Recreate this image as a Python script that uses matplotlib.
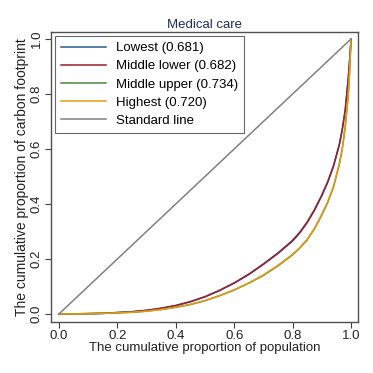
import matplotlib
matplotlib.use("Agg")
import matplotlib.pyplot as plt

plt.rcParams['font.family'] = ['Liberation Sans', 'DejaVu Sans']

# cumulative population share
pop = [0.0, 0.05, 0.1, 0.15, 0.2, 0.25, 0.3, 0.35, 0.4, 0.45, 0.5, 0.55, 0.6, 0.65,
       0.7, 0.75, 0.8, 0.825, 0.85, 0.875, 0.9, 0.92, 0.94, 0.96, 0.97, 0.98, 0.99, 0.995, 1.0]

# cumulative carbon footprint share (Lorenz curves by income group)
lowest       = [0.0, 0.0003, 0.001, 0.002, 0.005, 0.008, 0.013, 0.020, 0.030, 0.044, 0.062, 0.085, 0.112, 0.143,
                0.180, 0.220, 0.265, 0.295, 0.332, 0.377, 0.430, 0.478, 0.537, 0.615, 0.670, 0.740, 0.850, 0.920, 1.0]
middle_lower = [0.0, 0.0003, 0.001, 0.002, 0.005, 0.008, 0.013, 0.021, 0.031, 0.045, 0.063, 0.086, 0.113, 0.145,
                0.182, 0.222, 0.268, 0.298, 0.335, 0.380, 0.433, 0.481, 0.540, 0.618, 0.673, 0.743, 0.852, 0.921, 1.0]
middle_upper = [0.0, 0.0002, 0.001, 0.002, 0.004, 0.006, 0.010, 0.016, 0.024, 0.034, 0.048, 0.066, 0.087, 0.112,
                0.140, 0.175, 0.215, 0.240, 0.270, 0.310, 0.360, 0.405, 0.462, 0.545, 0.600, 0.680, 0.790, 0.880, 1.0]
highest      = [0.0, 0.0002, 0.001, 0.002, 0.004, 0.006, 0.010, 0.016, 0.025, 0.035, 0.049, 0.067, 0.088, 0.113,
                0.142, 0.177, 0.217, 0.242, 0.272, 0.312, 0.363, 0.408, 0.465, 0.548, 0.603, 0.683, 0.793, 0.882, 1.0]

labels = ["Lowest (0.681)", "Middle lower (0.682)", "Middle upper (0.734)", "Highest (0.720)", "Standard line"]
ticks = [0.0, 0.2, 0.4, 0.6, 0.8, 1.0]

fig = plt.figure(figsize=(3.73, 3.73), dpi=100)
ax = fig.add_axes([0.137, 0.137, 0.823, 0.777])

ax.plot(pop, lowest, color='#2b5a8c', lw=1.1, label=labels[0])
ax.plot(pop, middle_lower, color='#9a1f2e', lw=1.1, label=labels[1])
ax.plot(pop, middle_upper, color='#4a8a3a', lw=1.1, label=labels[2])
ax.plot(pop, highest, color='#e89a10', lw=1.1, label=labels[3])
ax.plot([0, 1], [0, 1], color='#808080', lw=1.1, label=labels[4])

ax.set_xlim(-0.027, 1.024)
ax.set_ylim(-0.029, 1.025)
ax.set_xticks(ticks)
ax.set_yticks(ticks)
ax.set_xticklabels([f'{t:.1f}' for t in ticks])
ax.set_yticklabels([f'{t:.1f}' for t in ticks], rotation=90, va='center')
ax.tick_params(direction='out', length=4, width=0.8, color='#404040',
               labelsize=9.5, labelcolor='#222222', pad=2)
for sp in ax.spines.values():
    sp.set_color('#505050')
    sp.set_linewidth(1.0)

ax.set_title('Medical care', fontsize=9.5, color='#1e2d5c', pad=3)
ax.set_xlabel('The cumulative proportion of population', fontsize=9.5, color='#222222', labelpad=0)
ax.set_ylabel('The cumulative proportion of carbon footprint', fontsize=10, color='#222222', labelpad=1)

leg = ax.legend(loc='upper left', fontsize=9.5, frameon=True, fancybox=False,
                handlelength=3.4, borderaxespad=0.3, labelspacing=0.45,
                borderpad=0.45, handletextpad=0.75)
leg.get_frame().set_edgecolor('#404040')
leg.get_frame().set_linewidth(0.8)

fig.savefig('out.png', dpi=100)
